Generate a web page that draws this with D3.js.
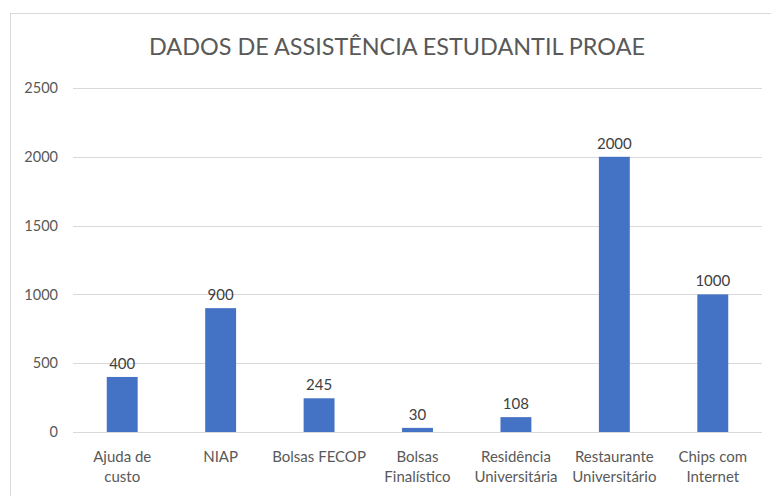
<!DOCTYPE html>
<html>
<head>
<meta charset="utf-8">
<script src="https://cdn.jsdelivr.net/npm/d3@7"></script>
<style>
  body { margin: 0; background: #fff; }
  text { font-family: Lato, "Open Sans", sans-serif; }
</style>
</head>
<body>
<div id="chart"></div>
<script>
var categories = ["Ajuda de custo", "NIAP", "Bolsas FECOP", "Bolsas Finalístico",
    "Residência Universitária", "Restaurante Universitário", "Chips com Internet"];
var labelLines = [["Ajuda de", "custo"], ["NIAP"], ["Bolsas FECOP"], ["Bolsas", "Finalístico"],
    ["Residência", "Universitária"], ["Restaurante", "Universitário"], ["Chips com", "Internet"]];
var values = [400, 900, 245, 30, 108, 2000, 1000];
var yTicks = [0, 500, 1000, 1500, 2000, 2500];
var title = "DADOS DE ASSISTÊNCIA ESTUDANTIL PROAE";

var width = 771;
var height = 496;
var margin = {top: 88, right: 9, bottom: 64, left: 73};

var svg = d3.select('#chart')
    .append('svg')
    .attr('width', width)
    .attr('height', height);

// chart area border
svg.append('rect')
    .attr('x', 10.5)
    .attr('y', 13.5)
    .attr('width', width)
    .attr('height', height)
    .attr('fill', 'none')
    .attr('stroke', '#d9d9d9');

var x = d3.scaleBand()
    .domain(categories)
    .range([margin.left, width - margin.right])
    .paddingInner(0.686)
    .paddingOuter(0.343);

var y = d3.scaleLinear()
    .domain([0, 2500])
    .range([height - margin.bottom, margin.top]);

svg.append('text')
    .attr('x', 397)
    .attr('y', 55)
    .attr('text-anchor', 'middle')
    .attr('font-size', 23)
    .attr('fill', '#595959')
    .attr('textLength', 496)
    .attr('lengthAdjust', 'spacingAndGlyphs')
    .text(title);

// gridlines
svg.append('g')
    .selectAll('line')
    .data(yTicks)
    .enter()
    .append('line')
    .attr('x1', margin.left)
    .attr('x2', width - margin.right)
    .attr('y1', function (d) { return Math.round(y(d)) + 0.5; })
    .attr('y2', function (d) { return Math.round(y(d)) + 0.5; })
    .attr('stroke', '#d9d9d9')
    .attr('stroke-width', 1.2);

// y axis labels
var yAxis = d3.axisLeft(y)
    .tickValues(yTicks)
    .tickFormat(d3.format('d'))
    .tickSize(0)
    .tickPadding(15);
var gy = svg.append('g')
    .attr('transform', 'translate(' + margin.left + ',0)')
    .call(yAxis);
gy.select('.domain').remove();
gy.selectAll('text')
    .attr('font-size', 14.5)
    .attr('fill', '#595959')
    .style('font-family', 'Lato, "Open Sans", sans-serif');

svg.selectAll('.bar')
    .data(values)
    .enter()
    .append('rect')
    .attr('class', 'bar')
    .attr('x', function (d, i) { return x(categories[i]); })
    .attr('y', function (d) { return y(d); })
    .attr('width', x.bandwidth())
    .attr('height', function (d) { return y(0) - y(d); })
    .attr('fill', '#4472c4');

svg.selectAll('.val')
    .data(values)
    .enter()
    .append('text')
    .attr('class', 'val')
    .attr('x', function (d, i) { return x(categories[i]) + x.bandwidth() / 2; })
    .attr('y', function (d) { return y(d) - 8; })
    .attr('text-anchor', 'middle')
    .attr('font-size', 15)
    .attr('fill', '#404040')
    .text(function (d) { return d; });

// category labels (wrapped like the original)
var cat = svg.selectAll('.cat')
    .data(categories)
    .enter()
    .append('text')
    .attr('class', 'cat')
    .attr('x', function (d) { return x(d) + x.bandwidth() / 2; })
    .attr('y', y(0) + 30)
    .attr('text-anchor', 'middle')
    .attr('font-size', 15)
    .attr('fill', '#595959');

cat.selectAll('tspan')
    .data(function (d, i) { return labelLines[i]; })
    .enter()
    .append('tspan')
    .attr('x', function () { return d3.select(this.parentNode).attr('x'); })
    .attr('dy', function (d, i) { return i === 0 ? 0 : 20; })
    .text(function (d) { return d; });
</script>
</body>
</html>
